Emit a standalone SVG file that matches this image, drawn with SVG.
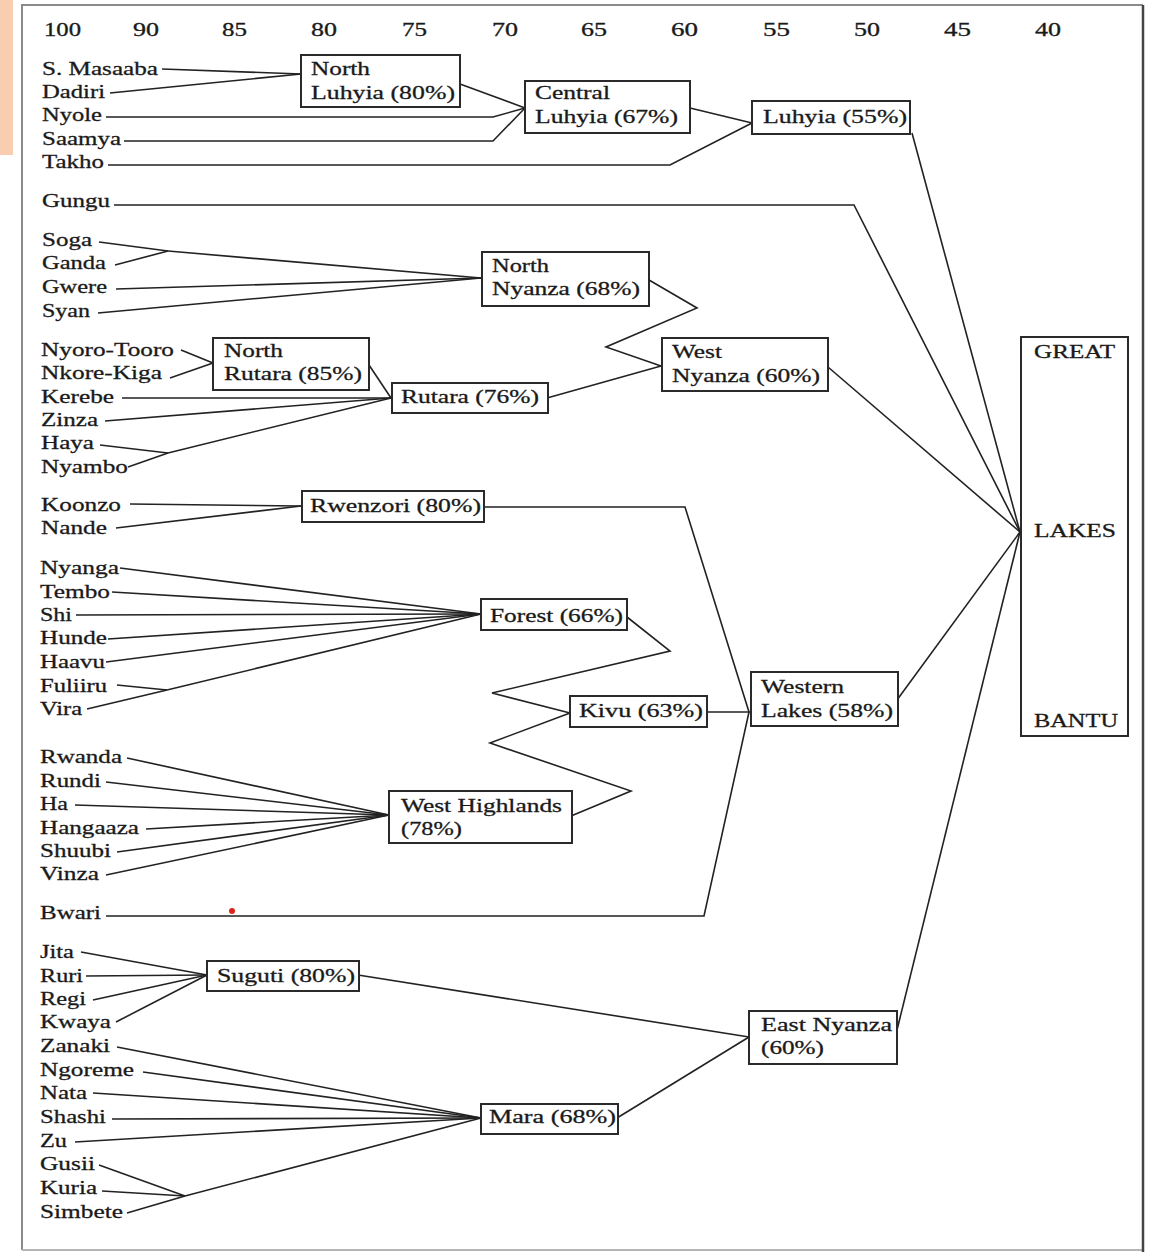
<svg xmlns="http://www.w3.org/2000/svg" width="1153" height="1254" viewBox="0 0 1153 1254">
<style>
text{font-family:"Liberation Serif","Times New Roman",serif;font-size:19.5px;fill:#1a1a1a;stroke:#1a1a1a;stroke-width:0.3}
.ax{font-size:18px}
.n{fill:#fff;stroke:#2a2a2a;stroke-width:2}
.c{fill:none;stroke:#222;stroke-width:1.6;stroke-linejoin:miter}
</style>
<rect x="0" y="0" width="1153" height="1254" fill="#fff"/>
<rect x="0" y="0" width="13" height="155" fill="#f9cdb0"/>
<g id="frame" fill="none">
<path d="M22,1250 V5 H1143" stroke="#8a8a8a" stroke-width="2"/>
<path d="M22,1250 H1143" stroke="#b5b5b5" stroke-width="2"/>
<path d="M1143,5 V1252" stroke="#444" stroke-width="2.5"/>
</g>
<g id="axis">
<text class="ax" x="44" y="36" textLength="37" lengthAdjust="spacingAndGlyphs">100</text>
<text class="ax" x="133" y="36" textLength="26" lengthAdjust="spacingAndGlyphs">90</text>
<text class="ax" x="222" y="36" textLength="25" lengthAdjust="spacingAndGlyphs">85</text>
<text class="ax" x="311" y="36" textLength="26" lengthAdjust="spacingAndGlyphs">80</text>
<text class="ax" x="402" y="36" textLength="25" lengthAdjust="spacingAndGlyphs">75</text>
<text class="ax" x="492" y="36" textLength="26" lengthAdjust="spacingAndGlyphs">70</text>
<text class="ax" x="581" y="36" textLength="26" lengthAdjust="spacingAndGlyphs">65</text>
<text class="ax" x="671" y="36" textLength="27" lengthAdjust="spacingAndGlyphs">60</text>
<text class="ax" x="763" y="36" textLength="27" lengthAdjust="spacingAndGlyphs">55</text>
<text class="ax" x="854" y="36" textLength="26" lengthAdjust="spacingAndGlyphs">50</text>
<text class="ax" x="944" y="36" textLength="27" lengthAdjust="spacingAndGlyphs">45</text>
<text class="ax" x="1035" y="36" textLength="26" lengthAdjust="spacingAndGlyphs">40</text>
</g>
<g id="connectors" class="c">
<polyline class="c" points="162,69 301,74"/>
<polyline class="c" points="110,93 301,74"/>
<polyline class="c" points="460,84 525,108"/>
<polyline class="c" points="106,117 493,117 525,108"/>
<polyline class="c" points="124,141 493,141 525,108"/>
<polyline class="c" points="690,108 752,123"/>
<polyline class="c" points="108,165 670,165 752,123"/>
<polyline class="c" points="912,133 1020,532"/>
<polyline class="c" points="114,205 854,205 1020,532"/>
<polyline class="c" points="99,242 168,251"/>
<polyline class="c" points="115,265 168,251"/>
<polyline class="c" points="168,251 481,278"/>
<polyline class="c" points="116,289 481,278"/>
<polyline class="c" points="98,313 481,278"/>
<polyline class="c" points="649,280 697,308 606,347 661,366"/>
<polyline class="c" points="547,398 661,366"/>
<polyline class="c" points="828,367 1020,532"/>
<polyline class="c" points="181,350 213,363"/>
<polyline class="c" points="170,378 213,363"/>
<polyline class="c" points="369,365 391,398"/>
<polyline class="c" points="122,398 391,398"/>
<polyline class="c" points="105,421 391,398"/>
<polyline class="c" points="100,445 168,453"/>
<polyline class="c" points="128,467 168,453"/>
<polyline class="c" points="168,453 391,398"/>
<polyline class="c" points="130,504 301,506"/>
<polyline class="c" points="116,528 301,506"/>
<polyline class="c" points="483,507 685,507 749,712"/>
<polyline class="c" points="707,712 751,712"/>
<polyline class="c" points="106,916 704,916 749,712"/>
<polyline class="c" points="897,700 1020,532"/>
<polyline class="c" points="120,568 481,614"/>
<polyline class="c" points="112,592 481,614"/>
<polyline class="c" points="76,615 481,614"/>
<polyline class="c" points="108,639 481,614"/>
<polyline class="c" points="106,662 481,614"/>
<polyline class="c" points="117,685 167,690"/>
<polyline class="c" points="87,709 167,690"/>
<polyline class="c" points="167,690 481,614"/>
<polyline class="c" points="627,617 670,651 492,693 570,713"/>
<polyline class="c" points="571,816 631,791 490,743 570,713"/>
<polyline class="c" points="127,758 389,815"/>
<polyline class="c" points="106,782 389,815"/>
<polyline class="c" points="75,805 389,815"/>
<polyline class="c" points="146,829 389,815"/>
<polyline class="c" points="117,852 389,815"/>
<polyline class="c" points="106,875 389,815"/>
<polyline class="c" points="81,952 207,975"/>
<polyline class="c" points="86,976 207,975"/>
<polyline class="c" points="93,1000 207,975"/>
<polyline class="c" points="116,1022 207,975"/>
<polyline class="c" points="358,975 749,1037"/>
<polyline class="c" points="617,1118 749,1037"/>
<polyline class="c" points="897,1030 1020,532"/>
<polyline class="c" points="117,1047 481,1118"/>
<polyline class="c" points="143,1072 481,1118"/>
<polyline class="c" points="93,1093 481,1118"/>
<polyline class="c" points="112,1119 481,1118"/>
<polyline class="c" points="75,1142 481,1118"/>
<polyline class="c" points="99,1165 185,1196"/>
<polyline class="c" points="102,1191 185,1196"/>
<polyline class="c" points="127,1213 185,1196"/>
<polyline class="c" points="185,1196 481,1118"/>
</g>
<g id="leaves">
<text x="42" y="75" textLength="116" lengthAdjust="spacingAndGlyphs">S. Masaaba</text>
<text x="42" y="98" textLength="63" lengthAdjust="spacingAndGlyphs">Dadiri</text>
<text x="42" y="121" textLength="60" lengthAdjust="spacingAndGlyphs">Nyole</text>
<text x="42" y="145" textLength="79" lengthAdjust="spacingAndGlyphs">Saamya</text>
<text x="42" y="168" textLength="62" lengthAdjust="spacingAndGlyphs">Takho</text>
<text x="42" y="207" textLength="68" lengthAdjust="spacingAndGlyphs">Gungu</text>
<text x="42" y="246" textLength="50" lengthAdjust="spacingAndGlyphs">Soga</text>
<text x="42" y="269" textLength="64" lengthAdjust="spacingAndGlyphs">Ganda</text>
<text x="42" y="293" textLength="65" lengthAdjust="spacingAndGlyphs">Gwere</text>
<text x="42" y="317" textLength="48" lengthAdjust="spacingAndGlyphs">Syan</text>
<text x="41" y="356" textLength="133" lengthAdjust="spacingAndGlyphs">Nyoro-Tooro</text>
<text x="41" y="379" textLength="121" lengthAdjust="spacingAndGlyphs">Nkore-Kiga</text>
<text x="41" y="403" textLength="73" lengthAdjust="spacingAndGlyphs">Kerebe</text>
<text x="41" y="426" textLength="57" lengthAdjust="spacingAndGlyphs">Zinza</text>
<text x="41" y="449" textLength="53" lengthAdjust="spacingAndGlyphs">Haya</text>
<text x="41" y="473" textLength="87" lengthAdjust="spacingAndGlyphs">Nyambo</text>
<text x="41" y="511" textLength="80" lengthAdjust="spacingAndGlyphs">Koonzo</text>
<text x="41" y="534" textLength="66" lengthAdjust="spacingAndGlyphs">Nande</text>
<text x="40" y="574" textLength="79" lengthAdjust="spacingAndGlyphs">Nyanga</text>
<text x="40" y="598" textLength="70" lengthAdjust="spacingAndGlyphs">Tembo</text>
<text x="40" y="621" textLength="32" lengthAdjust="spacingAndGlyphs">Shi</text>
<text x="40" y="644" textLength="67" lengthAdjust="spacingAndGlyphs">Hunde</text>
<text x="40" y="668" textLength="65" lengthAdjust="spacingAndGlyphs">Haavu</text>
<text x="40" y="692" textLength="67" lengthAdjust="spacingAndGlyphs">Fuliiru</text>
<text x="40" y="715" textLength="42" lengthAdjust="spacingAndGlyphs">Vira</text>
<text x="40" y="763" textLength="82" lengthAdjust="spacingAndGlyphs">Rwanda</text>
<text x="40" y="787" textLength="61" lengthAdjust="spacingAndGlyphs">Rundi</text>
<text x="40" y="810" textLength="28" lengthAdjust="spacingAndGlyphs">Ha</text>
<text x="40" y="834" textLength="99" lengthAdjust="spacingAndGlyphs">Hangaaza</text>
<text x="40" y="857" textLength="71" lengthAdjust="spacingAndGlyphs">Shuubi</text>
<text x="40" y="880" textLength="59" lengthAdjust="spacingAndGlyphs">Vinza</text>
<text x="40" y="919" textLength="61" lengthAdjust="spacingAndGlyphs">Bwari</text>
<text x="40" y="958" textLength="34" lengthAdjust="spacingAndGlyphs">Jita</text>
<text x="40" y="982" textLength="43" lengthAdjust="spacingAndGlyphs">Ruri</text>
<text x="40" y="1005" textLength="46" lengthAdjust="spacingAndGlyphs">Regi</text>
<text x="40" y="1028" textLength="71" lengthAdjust="spacingAndGlyphs">Kwaya</text>
<text x="40" y="1052" textLength="70" lengthAdjust="spacingAndGlyphs">Zanaki</text>
<text x="40" y="1076" textLength="94" lengthAdjust="spacingAndGlyphs">Ngoreme</text>
<text x="40" y="1099" textLength="47" lengthAdjust="spacingAndGlyphs">Nata</text>
<text x="40" y="1123" textLength="66" lengthAdjust="spacingAndGlyphs">Shashi</text>
<text x="40" y="1147" textLength="27" lengthAdjust="spacingAndGlyphs">Zu</text>
<text x="40" y="1170" textLength="55" lengthAdjust="spacingAndGlyphs">Gusii</text>
<text x="40" y="1194" textLength="57" lengthAdjust="spacingAndGlyphs">Kuria</text>
<text x="40" y="1218" textLength="83" lengthAdjust="spacingAndGlyphs">Simbete</text>
</g>
<g id="north-luhyia"><rect class="n" x="301" y="55" width="159" height="52"/>
<text x="311" y="75" textLength="59" lengthAdjust="spacingAndGlyphs">North</text>
<text x="311" y="99" textLength="144" lengthAdjust="spacingAndGlyphs">Luhyia (80%)</text></g>
<g id="central-luhyia"><rect class="n" x="525" y="81" width="165" height="52"/>
<text x="535" y="99" textLength="75" lengthAdjust="spacingAndGlyphs">Central</text>
<text x="535" y="123" textLength="143" lengthAdjust="spacingAndGlyphs">Luhyia (67%)</text></g>
<g id="luhyia"><rect class="n" x="752" y="101" width="158" height="33"/>
<text x="763" y="123" textLength="144" lengthAdjust="spacingAndGlyphs">Luhyia (55%)</text></g>
<g id="north-nyanza"><rect class="n" x="482" y="252" width="167" height="54"/>
<text x="492" y="272" textLength="57" lengthAdjust="spacingAndGlyphs">North</text>
<text x="492" y="295" textLength="148" lengthAdjust="spacingAndGlyphs">Nyanza (68%)</text></g>
<g id="north-rutara"><rect class="n" x="213" y="338" width="156" height="52"/>
<text x="224" y="357" textLength="59" lengthAdjust="spacingAndGlyphs">North</text>
<text x="224" y="380" textLength="138" lengthAdjust="spacingAndGlyphs">Rutara (85%)</text></g>
<g id="rutara"><rect class="n" x="392" y="383" width="156" height="30"/>
<text x="401" y="403" textLength="138" lengthAdjust="spacingAndGlyphs">Rutara (76%)</text></g>
<g id="west-nyanza"><rect class="n" x="662" y="338" width="166" height="53"/>
<text x="672" y="358" textLength="50" lengthAdjust="spacingAndGlyphs">West</text>
<text x="672" y="382" textLength="148" lengthAdjust="spacingAndGlyphs">Nyanza (60%)</text></g>
<g id="rwenzori"><rect class="n" x="302" y="491" width="182" height="31"/>
<text x="310" y="512" textLength="171" lengthAdjust="spacingAndGlyphs">Rwenzori (80%)</text></g>
<g id="forest"><rect class="n" x="481" y="599" width="146" height="31"/>
<text x="490" y="622" textLength="133" lengthAdjust="spacingAndGlyphs">Forest (66%)</text></g>
<g id="kivu"><rect class="n" x="570" y="696" width="137" height="31"/>
<text x="579" y="717" textLength="124" lengthAdjust="spacingAndGlyphs">Kivu (63%)</text></g>
<g id="western-lakes"><rect class="n" x="751" y="672" width="147" height="54"/>
<text x="761" y="693" textLength="83" lengthAdjust="spacingAndGlyphs">Western</text>
<text x="761" y="717" textLength="132" lengthAdjust="spacingAndGlyphs">Lakes (58%)</text></g>
<g id="west-highlands"><rect class="n" x="389" y="791" width="183" height="52"/>
<text x="401" y="812" textLength="161" lengthAdjust="spacingAndGlyphs">West Highlands</text>
<text x="401" y="835" textLength="61" lengthAdjust="spacingAndGlyphs">(78%)</text></g>
<g id="suguti"><rect class="n" x="207" y="961" width="152" height="30"/>
<text x="217" y="982" textLength="138" lengthAdjust="spacingAndGlyphs">Suguti (80%)</text></g>
<g id="east-nyanza"><rect class="n" x="749" y="1011" width="148" height="53"/>
<text x="761" y="1031" textLength="131" lengthAdjust="spacingAndGlyphs">East Nyanza</text>
<text x="761" y="1054" textLength="63" lengthAdjust="spacingAndGlyphs">(60%)</text></g>
<g id="mara"><rect class="n" x="481" y="1104" width="137" height="30"/>
<text x="489" y="1123" textLength="127" lengthAdjust="spacingAndGlyphs">Mara (68%)</text></g>
<g id="great-lakes-bantu"><rect class="n" x="1021" y="337" width="107" height="399"/>
<text x="1034" y="358" textLength="81" lengthAdjust="spacingAndGlyphs">GREAT</text>
<text x="1034" y="537" textLength="82" lengthAdjust="spacingAndGlyphs">LAKES</text>
<text x="1034" y="727" textLength="84" lengthAdjust="spacingAndGlyphs">BANTU</text></g>
<circle cx="232" cy="911" r="3" fill="#e0201a"/>
</svg>
